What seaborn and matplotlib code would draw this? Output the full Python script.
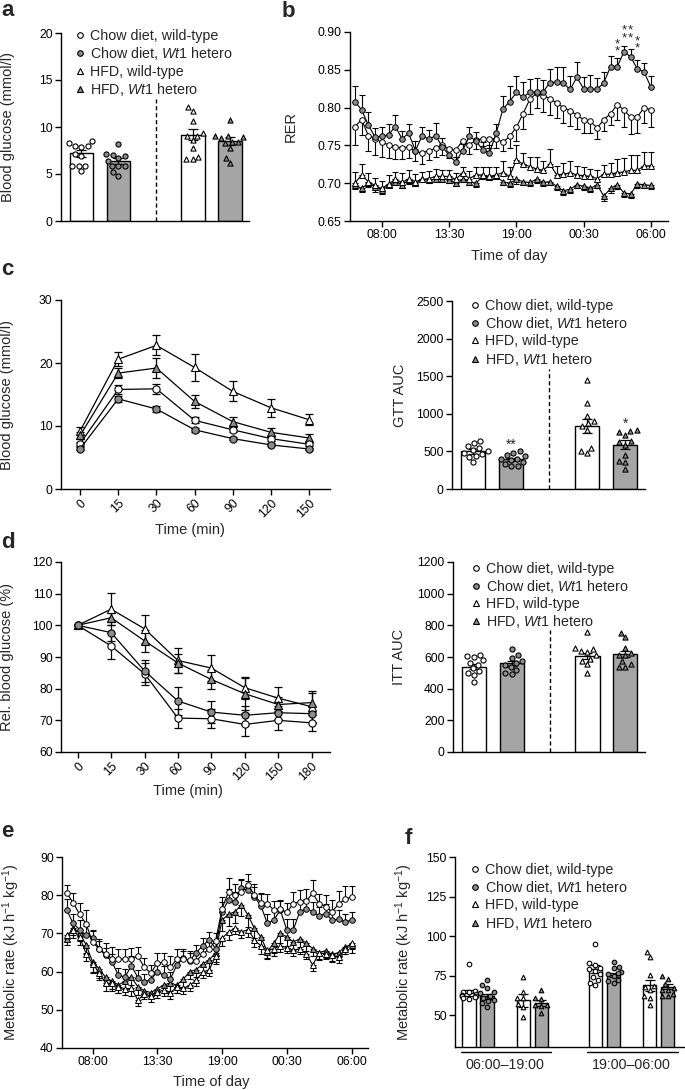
import numpy as np
import seaborn as sns
import matplotlib.pyplot as plt
from matplotlib.lines import Line2D

sns.set_style("ticks")
plt.rcParams["font.family"] = ["Liberation Sans", "DejaVu Sans"]
plt.rcParams["mathtext.fontset"] = "custom"
plt.rcParams["mathtext.rm"] = "Liberation Sans"
plt.rcParams["mathtext.it"] = "Liberation Sans:italic"
plt.rcParams["axes.linewidth"] = 1.0
plt.rcParams["axes.edgecolor"] = "black"

# ---------------- groups ----------------
keys = ["chow_wt", "chow_het", "hfd_wt", "hfd_het"]
labels = ["Chow diet, wild-type", r"Chow diet, $\mathit{Wt1}$ hetero",
          "HFD, wild-type", r"HFD, $\mathit{Wt1}$ hetero"]
markers = {"chow_wt": "o", "chow_het": "o", "hfd_wt": "^", "hfd_het": "^"}
GRAY_BAR = "#a5a5a5"
GRAY_PT = "#8c8c8c"
faces = {"chow_wt": "white", "chow_het": GRAY_PT, "hfd_wt": "white", "hfd_het": GRAY_PT}
bar_colors = {"chow_wt": "white", "chow_het": GRAY_BAR, "hfd_wt": "white", "hfd_het": GRAY_BAR}

# ---------------- a: fasting blood glucose ----------------
a_means = [7.2, 6.4, 9.2, 8.5]
a_sem = [0.4, 0.35, 0.6, 0.4]
a_points = [
    [8.5, 8.35, 8.0, 8.0, 7.9, 7.1, 6.9, 5.9, 5.9, 5.9, 5.3],
    [8.2, 7.1, 7.0, 6.9, 6.7, 6.4, 5.9, 5.9, 5.8, 5.2, 4.8],
    [12.1, 11.65, 10.65, 9.35, 9.05, 9.0, 8.6, 7.8, 6.85, 6.55, 6.55],
    [10.75, 9.0, 9.0, 8.9, 8.8, 8.45, 8.45, 8.3, 7.8, 6.7, 6.15],
]

# ---------------- b: RER over the day ----------------
hours = np.linspace(5.8, 30, 45)
day_ticks = [8, 13.5, 19, 24.5, 30]
day_labels = ["08:00", "13:30", "19:00", "00:30", "06:00"]

b_chow_wt = [0.775, 0.784, 0.763, 0.759, 0.754, 0.751, 0.748, 0.747, 0.748, 0.742,
             0.740, 0.743, 0.746, 0.751, 0.745, 0.744, 0.756, 0.751, 0.757, 0.759,
             0.758, 0.759, 0.754, 0.762, 0.774, 0.792, 0.811, 0.819, 0.816, 0.812,
             0.806, 0.800, 0.796, 0.790, 0.784, 0.782, 0.773, 0.784, 0.792, 0.804,
             0.797, 0.787, 0.788, 0.800, 0.797]
b_chow_het = [0.808, 0.797, 0.777, 0.761, 0.762, 0.764, 0.775, 0.759, 0.766, 0.743,
              0.763, 0.758, 0.763, 0.748, 0.737, 0.728, 0.743, 0.762, 0.756, 0.744,
              0.740, 0.766, 0.798, 0.808, 0.820, 0.814, 0.820, 0.821, 0.821, 0.833,
              0.834, 0.832, 0.824, 0.840, 0.825, 0.825, 0.824, 0.833, 0.854, 0.854,
              0.874, 0.867, 0.851, 0.847, 0.827]
b_hfd_wt = [0.700, 0.711, 0.702, 0.697, 0.693, 0.699, 0.705, 0.701, 0.706, 0.702,
            0.705, 0.706, 0.709, 0.709, 0.709, 0.705, 0.714, 0.706, 0.711, 0.711,
            0.709, 0.711, 0.714, 0.709, 0.731, 0.725, 0.722, 0.719, 0.717, 0.725,
            0.711, 0.712, 0.714, 0.711, 0.710, 0.709, 0.706, 0.712, 0.712, 0.714,
            0.715, 0.717, 0.717, 0.723, 0.723]
b_hfd_het = [0.698, 0.693, 0.700, 0.695, 0.691, 0.698, 0.702, 0.698, 0.704, 0.700,
             0.705, 0.704, 0.705, 0.706, 0.704, 0.700, 0.705, 0.702, 0.700, 0.709,
             0.708, 0.709, 0.702, 0.700, 0.705, 0.702, 0.701, 0.705, 0.701, 0.702,
             0.696, 0.690, 0.692, 0.698, 0.696, 0.693, 0.698, 0.683, 0.693, 0.698,
             0.687, 0.686, 0.699, 0.698, 0.697]
b_chow_wt_err = [0.025, 0.020, 0.020, 0.022, 0.020, 0.018, 0.016, 0.015, 0.015, 0.013,
                 0.015, 0.012, 0.012, 0.014, 0.012, 0.010, 0.012, 0.012, 0.012, 0.010,
                 0.012, 0.012, 0.012, 0.015, 0.018, 0.020, 0.020, 0.020, 0.022, 0.022,
                 0.020, 0.020, 0.020, 0.018, 0.018, 0.016, 0.015, 0.015, 0.015, 0.020,
                 0.022, 0.022, 0.022, 0.020, 0.022]
b_chow_het_err = [0.020, 0.020, 0.017, 0.012, 0.012, 0.014, 0.015, 0.010, 0.012, 0.013,
                  0.012, 0.013, 0.016, 0.012, 0.009, 0.006, 0.009, 0.012, 0.012, 0.010,
                  0.010, 0.012, 0.018, 0.020, 0.022, 0.020, 0.018, 0.018, 0.016, 0.018,
                  0.020, 0.022, 0.018, 0.020, 0.015, 0.018, 0.015, 0.014, 0.014, 0.012,
                  0.008, 0.010, 0.012, 0.012, 0.015]
b_hfd_wt_err = [0.015, 0.015, 0.012, 0.010, 0.010, 0.012, 0.010, 0.012, 0.012, 0.010,
                0.010, 0.010, 0.010, 0.008, 0.008, 0.008, 0.008, 0.010, 0.010, 0.010,
                0.012, 0.010, 0.015, 0.012, 0.020, 0.015, 0.012, 0.015, 0.012, 0.020,
                0.012, 0.015, 0.015, 0.012, 0.012, 0.010, 0.012, 0.012, 0.015, 0.018,
                0.018, 0.020, 0.020, 0.018, 0.018]
b_hfd_het_err = [0.006, 0.005, 0.005, 0.006, 0.005, 0.005, 0.004, 0.005, 0.005, 0.004,
                 0.004, 0.004, 0.004, 0.004, 0.004, 0.004, 0.004, 0.004, 0.005, 0.004,
                 0.004, 0.004, 0.005, 0.005, 0.006, 0.005, 0.005, 0.005, 0.005, 0.005,
                 0.005, 0.005, 0.005, 0.005, 0.005, 0.005, 0.005, 0.006, 0.006, 0.006,
                 0.005, 0.006, 0.006, 0.005, 0.005]
b_star_idx = [39, 40, 41, 42]
b_star_y = [0.879, 0.897, 0.897, 0.883]

# ---------------- c: GTT ----------------
gtt_time = ["0", "15", "30", "60", "90", "120", "150"]
gtt = {
    "chow_wt": [7.2, 15.8, 15.9, 10.9, 9.4, 8.0, 7.1],
    "chow_het": [6.4, 14.3, 12.7, 9.4, 8.0, 7.0, 6.35],
    "hfd_wt": [9.2, 20.6, 22.8, 19.3, 15.5, 12.9, 11.0],
    "hfd_het": [8.5, 18.4, 19.2, 13.9, 10.7, 9.0, 8.1],
}
gtt_err = {
    "chow_wt": [0.3, 0.7, 0.8, 0.5, 0.4, 0.35, 0.3],
    "chow_het": [0.2, 0.5, 0.5, 0.3, 0.25, 0.25, 0.2],
    "hfd_wt": [0.6, 1.1, 1.6, 2.1, 1.6, 1.4, 0.9],
    "hfd_het": [0.5, 0.8, 1.6, 1.0, 0.8, 0.7, 0.6],
}
gtt_auc_means = [500, 395, 835, 590]
gtt_auc_sem = [28, 20, 95, 55]
gtt_auc_points = [
    [633, 611, 575, 544, 522, 500, 478, 465, 434, 425, 358],
    [500, 478, 456, 434, 403, 403, 390, 354, 336, 310, 301],
    [1443, 1150, 973, 907, 876, 841, 788, 544, 500, 478],
    [779, 765, 752, 712, 633, 624, 588, 456, 367, 354, 265],
]
gtt_auc_stars = {"chow_het": "**", "hfd_het": "*"}

# ---------------- d: ITT ----------------
itt_time = ["0", "15", "30", "60", "90", "120", "150", "180"]
itt = {
    "chow_wt": [100, 93.5, 84.7, 70.7, 70.5, 68.7, 70.0, 69.2],
    "chow_het": [100, 97.7, 85.6, 76.1, 72.6, 71.6, 72.4, 72.1],
    "hfd_wt": [100, 105.1, 98.9, 88.9, 86.5, 80.3, 77.0, 74.3],
    "hfd_het": [100, 102.4, 95.1, 88.1, 82.9, 78.4, 75.0, 75.6],
}
itt_err = {
    "chow_wt": [0, 4.0, 3.5, 3.0, 3.0, 3.5, 3.0, 2.5],
    "chow_het": [0, 2.5, 3.5, 4.5, 3.5, 3.0, 2.0, 2.5],
    "hfd_wt": [0, 5.0, 4.5, 4.0, 4.0, 3.5, 3.5, 5.0],
    "hfd_het": [0, 1.5, 3.5, 3.0, 3.0, 5.0, 2.5, 3.0],
}
itt_auc_means = [540, 560, 605, 620]
itt_auc_sem = [18, 15, 20, 20]
itt_auc_points = [
    [615, 605, 598, 580, 565, 552, 530, 512, 500, 485, 440],
    [652, 610, 594, 573, 563, 548, 538, 517, 496, 490],
    [756, 656, 652, 635, 631, 610, 590, 575, 554, 500],
    [752, 725, 658, 627, 615, 610, 573, 558, 538, 540],
]

# ---------------- e: metabolic rate over the day ----------------
e_chow_wt = [80.6, 78.0, 75.0, 72.5, 67.7, 66.0, 64.6, 63.4, 63.3, 63.3,
             63.3, 64.0, 61.1, 59.6, 62.3, 62.4, 61.1, 63.3, 63.3, 63.0,
             62.8, 64.5, 66.0, 68.0, 76.5, 80.9, 80.0, 80.9, 82.8, 80.0,
             78.0, 77.8, 76.1, 76.3, 75.5, 77.8, 78.3, 78.5, 80.5, 77.8,
             77.0, 75.7, 77.7, 78.9, 79.6]
e_chow_het = [76.1, 72.6, 71.0, 69.5, 68.8, 66.0, 64.3, 62.5, 59.0, 58.6,
              61.5, 58.4, 57.3, 57.9, 60.0, 59.0, 58.0, 61.7, 63.5, 62.8,
              65.0, 66.7, 68.4, 66.0, 75.7, 78.7, 78.3, 81.8, 81.3, 79.6,
              77.2, 72.6, 73.5, 76.1, 70.9, 70.9, 75.7, 76.5, 75.7, 74.5,
              75.2, 73.5, 73.7, 73.0, 73.5]
e_hfd_wt = [69.5, 70.9, 69.0, 64.7, 62.1, 59.7, 57.0, 56.9, 56.0, 55.5,
            55.6, 52.5, 54.2, 53.6, 54.7, 55.1, 54.4, 56.0, 55.6, 56.4,
            57.7, 59.9, 60.4, 64.0, 68.7, 70.4, 71.3, 70.4, 71.0, 68.4,
            66.7, 65.6, 66.0, 66.7, 66.3, 65.6, 66.0, 64.7, 61.7, 64.9,
            64.7, 64.3, 63.7, 66.0, 67.5]
e_hfd_het = [68.5, 71.5, 70.0, 67.0, 62.5, 60.8, 58.5, 57.5, 56.5, 57.5,
             58.5, 56.0, 55.0, 54.5, 55.5, 56.5, 57.0, 56.5, 58.0, 60.0,
             60.5, 62.0, 63.0, 65.0, 73.5, 75.0, 75.7, 77.5, 74.8, 71.3,
             69.1, 65.2, 67.5, 70.0, 69.1, 67.8, 68.5, 67.5, 66.0, 65.0,
             65.5, 64.5, 65.0, 66.5, 67.0]
e_chow_wt_err = [2.0, 2.5, 3.0, 3.5, 3.0, 2.5, 3.0, 3.0, 2.5, 2.5,
                 3.0, 2.5, 2.5, 2.0, 2.5, 2.5, 3.0, 2.5, 2.5, 2.5,
                 2.0, 2.0, 2.0, 2.0, 3.0, 3.5, 3.0, 3.0, 2.8, 3.0,
                 2.5, 2.5, 2.5, 2.5, 2.5, 3.0, 3.0, 3.0, 3.5, 2.5,
                 3.0, 3.0, 3.5, 3.5, 2.8]
e_chow_het_err = [3.0, 2.5, 2.5, 2.5, 2.0, 2.0, 2.0, 2.0, 2.0, 2.0,
                  2.5, 2.0, 2.0, 2.0, 2.0, 2.5, 2.0, 2.0, 2.0, 2.0,
                  2.0, 2.0, 2.0, 2.0, 2.5, 3.0, 2.5, 2.5, 2.5, 2.5,
                  3.0, 2.5, 2.5, 2.5, 3.0, 3.0, 2.5, 2.5, 2.5, 2.5,
                  2.5, 2.5, 2.5, 2.0, 2.0]
e_hfd_wt_err = [1.5, 2.0, 2.0, 2.0, 2.5, 2.0, 2.0, 2.0, 1.5, 1.5,
                2.0, 1.5, 1.5, 1.5, 1.5, 1.5, 1.5, 1.5, 1.5, 1.5,
                1.5, 1.5, 1.5, 2.0, 2.0, 2.0, 1.5, 1.5, 2.0, 2.0,
                2.0, 2.0, 2.0, 1.5, 1.5, 1.5, 1.5, 1.5, 1.5, 1.5,
                1.5, 1.5, 1.5, 1.5, 1.5]
e_hfd_het_err = [1.5, 2.0, 2.0, 2.0, 2.5, 2.5, 2.0, 2.0, 2.0, 2.0,
                 2.0, 2.0, 1.5, 1.5, 1.5, 2.0, 2.0, 2.0, 2.0, 2.0,
                 2.0, 2.0, 2.5, 2.5, 3.0, 3.0, 3.0, 3.0, 3.0, 2.5,
                 2.5, 2.0, 2.5, 2.5, 2.5, 2.5, 2.0, 2.0, 2.0, 2.0,
                 2.0, 2.0, 2.0, 2.0, 2.0]

# ---------------- f: metabolic rate day / night ----------------
f_periods = ["06:00\u201319:00", "19:00\u201306:00"]
f_means = [[64.0, 62.0, 59.5, 58.0], [79.5, 75.5, 69.0, 68.0]]
f_sem = [[2.0, 1.5, 4.0, 2.0], [2.5, 1.5, 3.5, 1.5]]
f_points = [
    [[82.4, 65.5, 65.0, 64.5, 63.5, 63.0, 62.5, 62.0, 61.5, 61.0, 60.5],
     [72.5, 69.0, 67.5, 65.0, 64.0, 62.5, 61.0, 60.0, 59.0, 57.5, 55.5],
     [74.0, 65.0, 61.0, 61.0, 57.0, 55.0, 48.7],
     [66.2, 61.0, 60.3, 56.8, 56.2, 56.8, 51.5]],
    [[95.0, 83.0, 82.0, 80.0, 79.0, 78.0, 76.0, 74.0, 72.5, 70.3, 69.3],
     [83.7, 80.6, 80.0, 77.3, 76.8, 76.0, 74.7, 72.6, 71.5, 70.4],
     [90.0, 86.8, 75.3, 68.3, 67.9, 66.0, 62.4, 61.0, 56.8],
     [74.7, 73.2, 69.5, 67.4, 66.3, 66.3, 63.2, 62.4, 62.0]],
]

# ---------------- figure ----------------
fig = plt.figure(figsize=(6.85, 10.9), dpi=100)
W, H = 685, 1090


def px_axes(left, top, right, bottom):
    return fig.add_axes([left / W, 1 - bottom / H, (right - left) / W, (bottom - top) / H])


def style(ax):
    sns.despine(ax=ax)
    ax.tick_params(length=4, width=1.0, labelsize=8.7, pad=2, colors="black")


def group_legend(ax, anchor):
    handles = [Line2D([], [], ls="none", marker=markers[k], markerfacecolor=faces[k],
                      markeredgecolor="black", markeredgewidth=0.8, markersize=4.0)
               for k in keys]
    ax.legend(handles, labels, loc="upper left", bbox_to_anchor=anchor, frameon=False,
              fontsize=10.3, handlelength=0.8, handletextpad=0.3, labelspacing=0.15,
              borderpad=0, borderaxespad=0)


def scatter_bars(ax, order, slot_keys, means, sems, points, size=3.7, width=0.64):
    sns.barplot(x=slot_keys, y=means, hue=slot_keys, order=order,
                palette={s: bar_colors[s.split("|")[-1]] for s in slot_keys},
                width=width, edgecolor="black", linewidth=1.0, legend=False, ax=ax, zorder=2)
    pos = [order.index(s) for s in slot_keys]
    ax.errorbar(pos, means, yerr=sems, fmt="none", ecolor="black", elinewidth=0.9,
                capsize=3.5, capthick=0.9, zorder=4)
    for s, pts in zip(slot_keys, points):
        k = s.split("|")[-1]
        sns.swarmplot(x=[s] * len(pts), y=pts, order=order, marker=markers[k], color=faces[k],
                      edgecolor="black", linewidth=0.8, size=size, warn_thresh=1.0,
                      ax=ax, zorder=5)


def auc_panel(ax, means, sems, points, ylim, yticks, dash_top):
    order = [keys[0], keys[1], "gap", keys[2], keys[3]]
    scatter_bars(ax, order, keys, means, sems, points)
    ax.vlines(order.index("gap"), ylim[0], dash_top, colors="black", linestyles=(0, (3, 2)), lw=1.0)
    ax.set_ylim(ylim)
    ax.set_yticks(yticks)
    ax.set_xlim(-0.55, 4.52)
    ax.set_xticks([])
    ax.set_xlabel("")
    style(ax)
    return order


def curve_panel(ax, times, values, errs, ylim, yticks):
    x = np.arange(len(times))
    for k in ["hfd_wt", "hfd_het", "chow_wt", "chow_het"]:
        ax.errorbar(x, values[k], yerr=errs[k], fmt="none", ecolor="black", elinewidth=0.9,
                    capsize=3, capthick=0.9, zorder=2)
        sns.lineplot(x=x, y=values[k], color="black", linewidth=0.9, marker=markers[k],
                     markerfacecolor=faces[k], markeredgecolor="black", markeredgewidth=0.8,
                     markersize=5.2, errorbar=None, ax=ax, zorder=3)
    ax.set_xticks(x)
    ax.set_xticklabels(times, rotation=45, ha="right", rotation_mode="anchor")
    ax.set_xlim(-0.5, len(times) - 0.45)
    ax.set_ylim(ylim)
    ax.set_yticks(yticks)
    ax.set_xlabel("Time (min)", fontsize=10.5)
    style(ax)


def day_panel(ax, series, ylim, yticks, ms=4.0):
    for vals, err, k, up in series:
        yerr = [np.zeros(len(err)), err] if up else [err, np.zeros(len(err))]
        ax.errorbar(hours, vals, yerr=yerr, fmt="none", ecolor="black", elinewidth=0.8,
                    capsize=2.5, capthick=0.8, zorder=2)
        sns.lineplot(x=hours, y=vals, color="black", linewidth=0.8, marker=markers[k],
                     markerfacecolor=faces[k], markeredgecolor="black", markeredgewidth=0.7,
                     markersize=ms, errorbar=None, ax=ax, zorder=3)
    ax.set_xticks(day_ticks)
    ax.set_xticklabels(day_labels)
    ax.set_xlim(5.4, 31.4)
    ax.set_ylim(ylim)
    ax.set_yticks(yticks)
    ax.set_xlabel("Time of day", fontsize=10.5)
    style(ax)


# a
ax_a = px_axes(61, 33, 249, 221)
auc_panel(ax_a, a_means, a_sem, a_points, (0, 20), [0, 5, 10, 15, 20], 13)
ax_a.set_ylabel("Blood glucose (mmol/l)", fontsize=10.5)
ax_a.yaxis.set_label_coords(-0.245, 0.5)
group_legend(ax_a, (0.072, 1.02))

# b
ax_b = px_axes(350, 32, 668, 221)
day_panel(ax_b, [(b_hfd_het, b_hfd_het_err, "hfd_het", False),
                 (b_hfd_wt, b_hfd_wt_err, "hfd_wt", True),
                 (b_chow_wt, b_chow_wt_err, "chow_wt", False),
                 (b_chow_het, b_chow_het_err, "chow_het", True)],
          (0.65, 0.90), [0.65, 0.70, 0.75, 0.80, 0.85, 0.90])
ax_b.set_yticklabels(["0.65", "0.70", "0.75", "0.80", "0.85", "0.90"])
ax_b.set_ylabel("RER", fontsize=10.5)
ax_b.yaxis.set_label_coords(-0.164, 0.5)
ax_b.xaxis.set_label_coords(0.5, -0.15)
# two stars per time point, stacked in one text
for i, y in zip(b_star_idx, b_star_y):
    ax_b.text(hours[i], y, "*\n*", ha="center", va="center", fontsize=9.5,
              linespacing=0.5)

# c
ax_c1 = px_axes(61, 300, 330, 489)
curve_panel(ax_c1, gtt_time, gtt, gtt_err, (0, 30), [0, 10, 20, 30])
ax_c1.set_ylabel("Blood glucose (mmol/l)", fontsize=10.5)
ax_c1.yaxis.set_label_coords(-0.175, 0.5)
ax_c1.xaxis.set_label_coords(0.48, -0.18)

ax_c2 = px_axes(452, 301, 645, 489)
order = auc_panel(ax_c2, gtt_auc_means, gtt_auc_sem, gtt_auc_points, (0, 2500),
                  [0, 500, 1000, 1500, 2000, 2500], 1600)
for k, star in gtt_auc_stars.items():
    ax_c2.text(order.index(k), max(gtt_auc_points[keys.index(k)]), star,
               ha="center", va="bottom", fontsize=10)
ax_c2.set_ylabel("GTT AUC", fontsize=10.5)
ax_c2.yaxis.set_label_coords(-0.233, 0.5)
group_legend(ax_c2, (0.09, 1.01))

# d
ax_d1 = px_axes(61, 562, 330, 752)
curve_panel(ax_d1, itt_time, itt, itt_err, (60, 120), [60, 70, 80, 90, 100, 110, 120])
ax_d1.set_ylabel("Rel. blood glucose (%)", fontsize=10.5)
ax_d1.yaxis.set_label_coords(-0.175, 0.5)
ax_d1.xaxis.set_label_coords(0.472, -0.166)

ax_d2 = px_axes(453, 562, 645, 752)
auc_panel(ax_d2, itt_auc_means, itt_auc_sem, itt_auc_points, (0, 1200),
          [0, 200, 400, 600, 800, 1000, 1200], 770)
ax_d2.set_ylabel("ITT AUC", fontsize=10.5)
ax_d2.yaxis.set_label_coords(-0.245, 0.5)
group_legend(ax_d2, (0.09, 1.0))

# e
ax_e = px_axes(62, 857, 368, 1048)
day_panel(ax_e, [(e_hfd_het, e_hfd_het_err, "hfd_het", False),
                 (e_hfd_wt, e_hfd_wt_err, "hfd_wt", False),
                 (e_chow_het, e_chow_het_err, "chow_het", True),
                 (e_chow_wt, e_chow_wt_err, "chow_wt", True)],
          (40, 90), [40, 50, 60, 70, 80, 90])
ax_e.set_ylabel(r"Metabolic rate (kJ h$^{-1}$ kg$^{-1}$)", fontsize=10.5)
ax_e.yaxis.set_label_coords(-0.13, 0.5)
ax_e.xaxis.set_label_coords(0.487, -0.143)

# f
ax_f = px_axes(455, 857, 685, 1047)
f_order = []
f_slots, f_mean_list, f_sem_list, f_pts = [], [], [], []
for p, period in enumerate(f_periods):
    if p > 0:
        f_order += ["gap%d" % p + "a", "gap%d" % p + "b"]
    for j, k in enumerate(keys):
        if j == 2:
            f_order.append("gap%d" % p)
        slot = period + "|" + k
        f_order.append(slot)
        f_slots.append(slot)
        f_mean_list.append(f_means[p][j])
        f_sem_list.append(f_sem[p][j])
        f_pts.append(f_points[p][j])
scatter_bars(ax_f, f_order, f_slots, f_mean_list, f_sem_list, f_pts, size=3.3, width=0.73)
ax_f.set_ylim(30, 150)
ax_f.set_yticks([50, 75, 100, 125, 150])
ax_f.set_xlim(-0.77, 11.95)
ax_f.set_xticks([])
ax_f.set_xlabel("")
style(ax_f)
xt = ax_f.get_xaxis_transform()
for period in f_periods:
    idx = [f_order.index(period + "|" + k) for k in keys]
    ax_f.plot([idx[0] - 0.45, idx[-1] + 0.55], [-0.026, -0.026], transform=xt,
              clip_on=False, color="black", lw=1.0)
    ax_f.text((idx[0] + idx[-1]) / 2, -0.093, period, transform=xt, ha="center",
              va="center", fontsize=10.3)
ax_f.set_ylabel(r"Metabolic rate (kJ h$^{-1}$ kg$^{-1}$)", fontsize=10.5)
ax_f.yaxis.set_label_coords(-0.175, 0.5)
group_legend(ax_f, (0.06, 0.968))

# panel letters
for letter, x, y in [("a", 1, 16), ("b", 282, 17), ("c", 1, 275),
                     ("d", 1, 548), ("e", 1, 837), ("f", 405, 844)]:
    fig.text(x / W, 1 - y / H, letter, fontsize=16, fontweight="bold", va="baseline")

fig.savefig("out.png", dpi=100)
